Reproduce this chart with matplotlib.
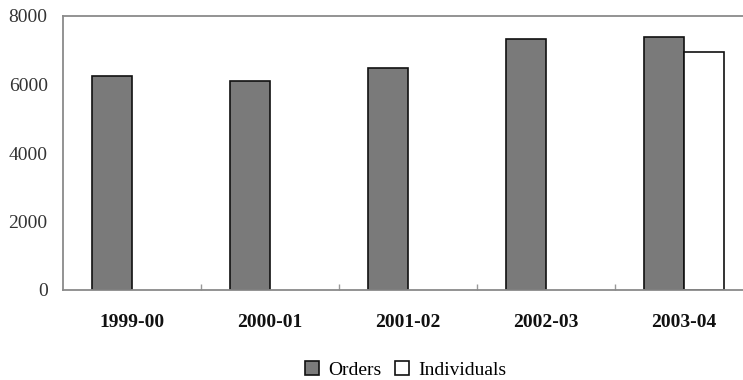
import matplotlib
matplotlib.use("Agg")
import matplotlib.pyplot as plt
import numpy as np

years = ["1999-00", "2000-01", "2001-02", "2002-03", "2003-04"]
orders = [6250, 6100, 6480, 7320, 7400]
individuals = [np.nan, np.nan, np.nan, np.nan, 6950]
yticks = [0, 2000, 4000, 6000, 8000]

plt.rcParams["font.family"] = ["Liberation Serif", "DejaVu Serif"]

fig = plt.figure(figsize=(7.43, 3.80), dpi=100)
ax = fig.add_axes([63 / 743, 90 / 380, 680 / 743, 274 / 380])

x = np.arange(len(years))
w = 0.29
ax.bar(x - w / 2, orders, w, color="#7a7a7a", edgecolor="#111111", linewidth=1.2, label="Orders")
ax.bar(x + w / 2, individuals, w, color="white", edgecolor="#111111", linewidth=1.2, label="Individuals")

ax.set_xlim(-0.5, 4.43)
ax.set_ylim(0, 8000)
ax.set_yticks(yticks)
ax.set_yticklabels([str(v) for v in yticks], fontsize=14, color="#333333")
ax.set_xticks(x)
ax.set_xticklabels(years, fontsize=14, fontweight="bold", color="#111111")
ax.set_xticks(x[:-1] + 0.5, minor=True)
ax.tick_params(axis="y", length=0, pad=11)
ax.tick_params(axis="x", which="major", length=0, pad=17)
ax.tick_params(axis="x", which="minor", direction="in", length=4, width=1, color="#999999")

for side in ["left", "top", "bottom"]:
    ax.spines[side].set_color("#8a8a8a")
    ax.spines[side].set_linewidth(1.3)
ax.spines["right"].set_visible(False)

leg = fig.legend(loc="center", bbox_to_anchor=(406 / 743, 1 - 370 / 380), ncol=2,
                 frameon=False, fontsize=14, handlelength=0.7, handleheight=0.7,
                 handletextpad=0.5, columnspacing=0.7)

fig.savefig("out.png", dpi=100)
